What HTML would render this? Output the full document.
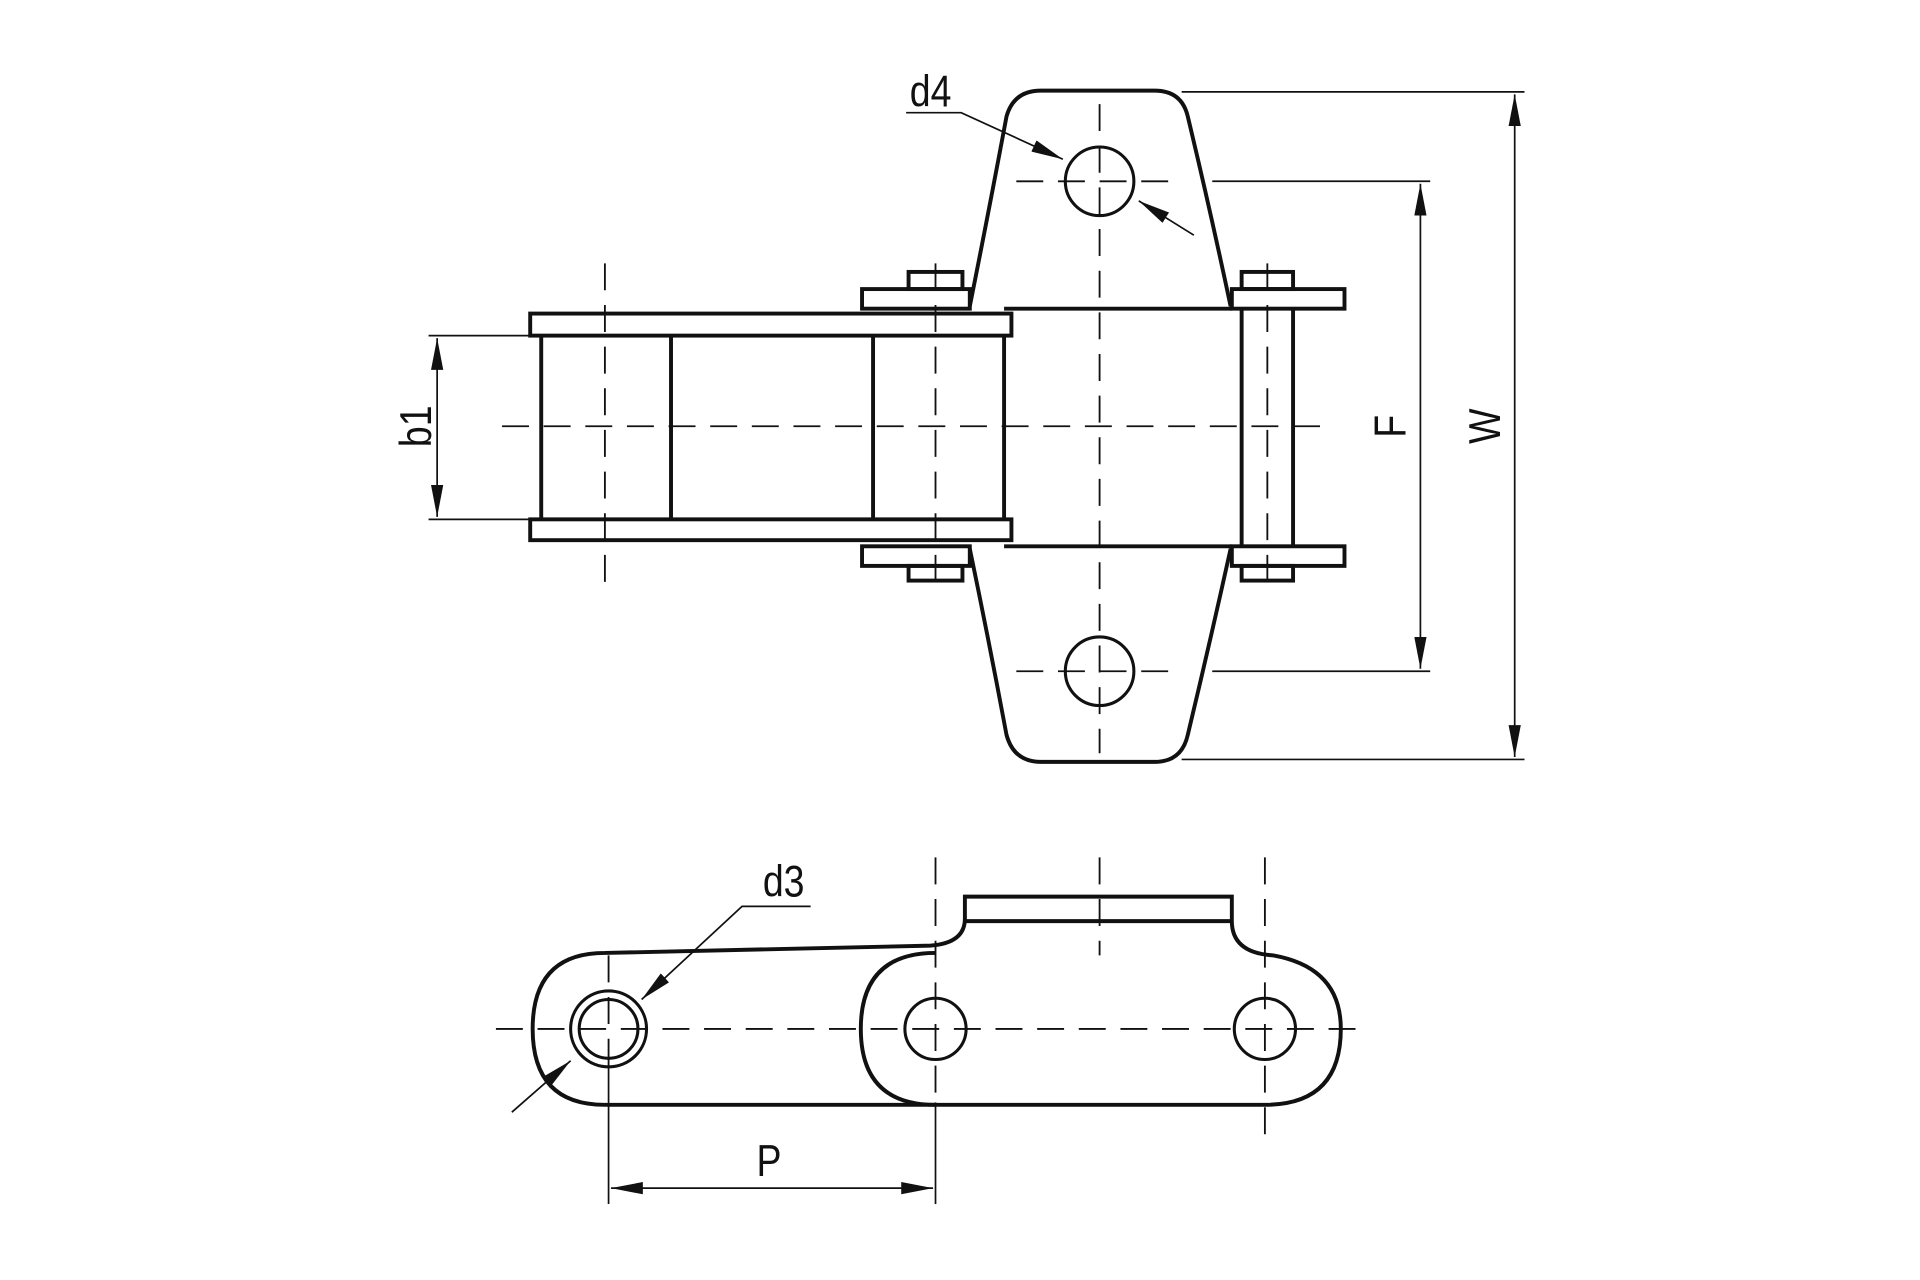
<!DOCTYPE html>
<html><head><style>
html,body{margin:0;padding:0;background:#fff;}
svg{display:block;}
text{font-family:"Liberation Sans",sans-serif;font-size:36px;fill:#111;}
</style></head><body>
<svg width="1920" height="1280" viewBox="0 0 1568 1045" preserveAspectRatio="none" xmlns="http://www.w3.org/2000/svg">
<defs>
<marker id="a" viewBox="0 0 26 10" refX="26" refY="5" markerWidth="26" markerHeight="10" markerUnits="userSpaceOnUse" orient="auto-start-reverse"><path d="M0,0 L26,5 L0,10 Z" fill="#111"/></marker>
</defs>
<g fill="none" stroke="#111" stroke-width="3.2">
<path d="M792,250 Q808,170 822,95 Q828,74 850,74 L943,74 Q965,74 970,95 Q988,170 1005,250"/>
<path d="M792,448 Q808,525 822,600 Q828,622 850,622 L943,622 Q965,622 970,600 Q988,525 1005,448"/>
<circle cx="898" cy="148" r="28" stroke-width="2.5"/>
<circle cx="898" cy="548" r="28" stroke-width="2.5"/>
<line x1="820" y1="252" x2="1006" y2="252"/>
<line x1="820" y1="446" x2="1006" y2="446"/>
<rect x="433" y="256" width="393" height="18"/>
<rect x="433" y="424" width="393" height="17"/>
<line x1="442" y1="274" x2="442" y2="424"/>
<line x1="548" y1="274" x2="548" y2="424"/>
<line x1="713" y1="274" x2="713" y2="424"/>
<line x1="820" y1="274" x2="820" y2="424"/>
<rect x="704" y="236" width="88" height="16"/>
<rect x="742" y="222" width="44" height="14"/>
<rect x="704" y="446" width="88" height="16"/>
<rect x="742" y="462" width="44" height="12"/>
<rect x="1006" y="236" width="92" height="16"/>
<rect x="1014" y="222" width="42" height="14"/>
<rect x="1006" y="446" width="92" height="16"/>
<rect x="1014" y="462" width="42" height="12"/>
<line x1="1014" y1="252" x2="1014" y2="446"/>
<line x1="1056" y1="252" x2="1056" y2="446"/>
<path d="M494,778 L760,772 Q788,770 788,750 L788,732 L1006,732 L1006,752 Q1006,778 1040,780 Q1095,790 1095,840 Q1095,902 1033,902 L494,902 Q435,902 435,840 Q435,778 494,778 Z"/>
<path d="M764,902 Q703,902 703,840 Q703,778 764,778"/>
<line x1="788" y1="752" x2="1006" y2="752"/>
<circle cx="764" cy="840" r="25" stroke-width="2.5"/>
<circle cx="1033" cy="840" r="25" stroke-width="2.5"/>
<circle cx="497" cy="840" r="31" stroke-width="2.5"/>
<circle cx="497" cy="840" r="24" stroke-width="2.5"/>
</g>
<g stroke="#111" stroke-width="1.5" stroke-dasharray="22,12" fill="none">
<line x1="410" y1="348" x2="1080" y2="348"/>
<line x1="494" y1="215" x2="494" y2="485"/>
<line x1="764" y1="215" x2="764" y2="485"/>
<line x1="1035" y1="215" x2="1035" y2="485"/>
<line x1="898" y1="85" x2="898" y2="615"/>
<line x1="830" y1="148" x2="965" y2="148"/>
<line x1="830" y1="548" x2="965" y2="548"/>
<line x1="405" y1="840" x2="1110" y2="840"/>
<line x1="764" y1="700" x2="764" y2="900"/>
<line x1="898" y1="700" x2="898" y2="780"/>
<line x1="1033" y1="700" x2="1033" y2="930"/>
<line x1="497" y1="780" x2="497" y2="870"/>
</g>
<g stroke="#111" stroke-width="1.4" fill="none">
<line x1="350" y1="274" x2="433" y2="274"/>
<line x1="350" y1="424" x2="433" y2="424"/>
<line x1="357" y1="276" x2="357" y2="422" marker-end="url(#a)" marker-start="url(#a)"/>
<line x1="990" y1="148" x2="1168" y2="148"/>
<line x1="990" y1="548" x2="1168" y2="548"/>
<line x1="1160" y1="150" x2="1160" y2="546" marker-end="url(#a)" marker-start="url(#a)"/>
<line x1="965" y1="75" x2="1245" y2="75"/>
<line x1="965" y1="620" x2="1245" y2="620"/>
<line x1="1237" y1="77" x2="1237" y2="618" marker-end="url(#a)" marker-start="url(#a)"/>
<polyline points="740,92 785,92 868,130" marker-end="url(#a)"/>
<line x1="975" y1="192" x2="930" y2="164" marker-end="url(#a)"/>
<line x1="497" y1="870" x2="497" y2="983"/>
<line x1="764" y1="900" x2="764" y2="983"/>
<line x1="499" y1="970" x2="762" y2="970" marker-end="url(#a)" marker-start="url(#a)"/>
<polyline points="662,740 606,740 524,816" marker-end="url(#a)"/>
<line x1="418" y1="908" x2="466" y2="866" marker-end="url(#a)"/>
</g>
<text transform="translate(760 87) scale(0.85 1)" text-anchor="middle">d4</text>
<text transform="translate(640 732) scale(0.85 1)" text-anchor="middle">d3</text>
<text transform="translate(628 960) scale(0.85 1)" text-anchor="middle">P</text>
<text transform="translate(352 348) rotate(-90) scale(0.85 1)" text-anchor="middle">b1</text>
<text transform="translate(1148 348) rotate(-90) scale(0.85 1)" text-anchor="middle">F</text>
<text transform="translate(1225 348) rotate(-90) scale(0.85 1)" text-anchor="middle">W</text>
</svg>
</body></html>
